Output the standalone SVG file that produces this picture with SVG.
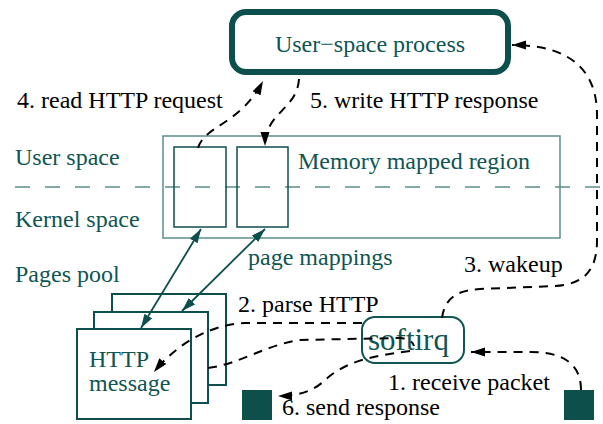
<svg xmlns="http://www.w3.org/2000/svg" width="603" height="424" viewBox="0 0 603 424">
<defs>
<style>
text{font-family:"Liberation Serif","Times New Roman",serif;font-size:24px}
.k{fill:#000}
.t{fill:#0f5552}
.dash{fill:none;stroke:#000;stroke-width:2;stroke-dasharray:9 7}
.map{fill:none;stroke:#0d4f4d;stroke-width:1.8}
.page{fill:#fff;stroke:#0d4f4d;stroke-width:2}
</style>
<marker id="ah" markerUnits="userSpaceOnUse" markerWidth="15" markerHeight="10" refX="14" refY="4.5" orient="auto">
<path d="M0,0 L14,4.5 L0,9 z" fill="#000"/>
</marker>
<marker id="th" markerUnits="userSpaceOnUse" markerWidth="15" markerHeight="10" refX="14" refY="4.5" orient="auto-start-reverse">
<path d="M0,0 L14,4.5 L0,9 z" fill="#0d4f4d"/>
</marker>
</defs>
<rect width="603" height="424" fill="#fff"/>

<g id="labels">
<text x="15" y="165" class="t">User space</text>
<text x="15" y="227" class="t">Kernel space</text>
<text x="15" y="282" class="t">Pages pool</text>
<line x1="15" y1="187" x2="603" y2="187" stroke="#5b8f8d" stroke-width="1.5" stroke-dasharray="15 15"/>
</g>

<g id="user-process">
<rect x="232" y="12" width="276" height="60" rx="14" fill="#fff" stroke="#0d4f4d" stroke-width="6"/>
<text x="370" y="52" class="t" text-anchor="middle">User−space process</text>
</g>

<g id="memory-region">
<rect x="163" y="136" width="397" height="102" fill="none" stroke="#5b8f8d" stroke-width="1.5"/>
<text x="298" y="169" class="t">Memory mapped region</text>
</g>
<g id="mapped-page-1"><rect x="174" y="147" width="52" height="80" fill="none" stroke="#0d4f4d" stroke-width="1.5"/></g>
<g id="mapped-page-2"><rect x="237" y="147" width="51" height="80" fill="none" stroke="#0d4f4d" stroke-width="1.5"/></g>

<g id="pages-pool">
<rect x="112" y="294" width="114" height="91" class="page"/>
<rect x="94" y="312" width="114" height="91" class="page"/>
<rect x="77" y="329" width="114" height="90" class="page"/>
<text x="89" y="367" class="t">HTTP</text>
<text x="89" y="391" class="t">message</text>
</g>

<g id="softirq">
<rect x="362" y="317" width="102" height="46" rx="13" fill="#fff" stroke="#0f5552" stroke-width="2"/>
<text x="368" y="350" class="t" style="font-size:31px">softirq</text>
</g>

<g id="nic-out"><rect x="242" y="390" width="30" height="30" fill="#0d4f4b"/></g>
<g id="nic-in"><rect x="564" y="390" width="30" height="30" fill="#0d4f4b"/></g>

<g id="connectors">
<path class="map" d="M141,328 L201,229" marker-start="url(#th)" marker-end="url(#th)"/>
<path class="map" d="M182,311 L265,229" marker-start="url(#th)" marker-end="url(#th)"/>
<path class="dash" d="M198,148 C205,125 240,125 263,81" marker-end="url(#ah)"/>
<path class="dash" d="M299,79 C297,110 265,112 265,146" marker-end="url(#ah)"/>
<path class="dash" d="M442,318 C445,296 460,290 480,289 L555,286 C585,284 597,270 597,240 L597,115 C597,70 570,45 512,45" marker-end="url(#ah)"/>
<path class="dash" d="M581,390 C581,365 565,352 530,352 L471,352" marker-end="url(#ah)"/>
<path class="dash" d="M362,323 L245,323 C215,324 180,340 154,372" marker-end="url(#ah)"/>
<path class="dash" d="M208,368 C240,364 265,345 300,340 L400,338 Q412,339 414,346"/>
<path class="dash" d="M410,351 C370,356 345,362 325,380 C315,390 300,396 278,396" marker-end="url(#ah)"/>
</g>

<g id="step-labels">
<text x="17" y="108" class="k">4. read HTTP request</text>
<text x="310" y="108" class="k">5. write HTTP response</text>
<text x="248" y="265" class="t">page mappings</text>
<text x="464" y="272" class="k">3. wakeup</text>
<text x="238" y="312" class="k">2. parse HTTP</text>
<text x="388" y="390" class="k">1. receive packet</text>
<text x="282" y="415" class="k">6. send response</text>
</g>
</svg>
